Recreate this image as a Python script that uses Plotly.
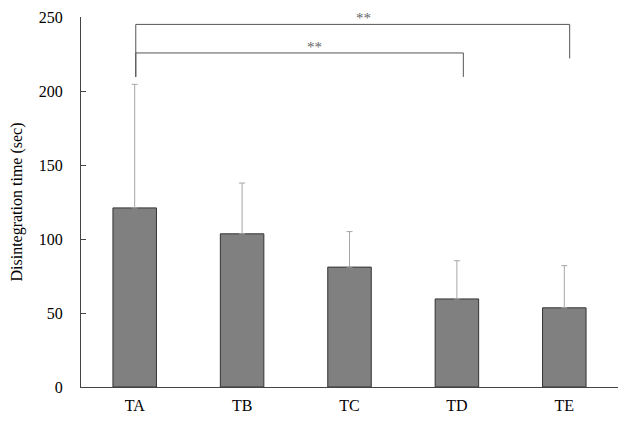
import plotly.graph_objects as go

categories = ["TA", "TB", "TC", "TD", "TE"]
means = [121, 103.5, 81, 59.5, 53.5]
sd_upper = [83.5, 34.3, 24, 25.8, 28.5]

# significance comparisons: (left leg x, right leg x, bracket height, left leg bottom, right leg bottom)
comparisons = [
    (0.01, 4.05, 245, 209.5, 222),
    (0.01, 3.06, 225.7, 209.5, 209.5),
]
sig_labels = ["**", "**"]
sig_label_x = [2.13, 1.67]
sig_label_y = [249.3, 229.7]

FONT = "Liberation Serif, Times New Roman, serif"

fig = go.Figure()
fig.add_trace(go.Bar(
    x=list(range(len(categories))),
    y=means,
    width=0.405,
    marker=dict(color="#808080", line=dict(color="#333333", width=1)),
    error_y=dict(type="data", array=sd_upper, symmetric=False, arrayminus=[0]*len(means),
                 color="#a6a6a6", thickness=1, width=3),
))

for (a, b, h, la, lb) in comparisons:
    for x0, x1, y0, y1 in [(a, a, la, h), (a, b, h, h), (b, b, h, lb)]:
        fig.add_shape(type="line", x0=x0, x1=x1, y0=y0, y1=y1, xref="x", yref="y",
                      line=dict(color="#555555", width=1))

for lab, lx, ly in zip(sig_labels, sig_label_x, sig_label_y):
    fig.add_annotation(x=lx, y=ly, text=lab, showarrow=False, yanchor="middle",
                       font=dict(family=FONT, size=15, color="#666666"))

fig.update_layout(
    width=618, height=421,
    margin=dict(l=81, r=0, t=17, b=34),
    plot_bgcolor="white", paper_bgcolor="white",
    showlegend=False,
    font=dict(family=FONT, size=16, color="black"),
    xaxis=dict(range=[-0.5, 4.5], tickvals=list(range(len(categories))), ticktext=categories,
               showline=True, linecolor="#444444", linewidth=1, ticks="", showgrid=False,
               zeroline=False, tickfont=dict(family=FONT, size=16), ticklabelstandoff=4),
    yaxis=dict(range=[0, 250], tickvals=[0, 50, 100, 150, 200, 250], showline=True,
               linecolor="#444444", linewidth=1, ticks="inside", ticklen=5, tickcolor="#444444",
               showgrid=False, zeroline=False, tickfont=dict(family=FONT, size=16),
               ticklabelstandoff=14,
               title=dict(text="Disintegration time (sec)", font=dict(family=FONT, size=16),
                          standoff=12)),
)

fig.write_html("out.html")
